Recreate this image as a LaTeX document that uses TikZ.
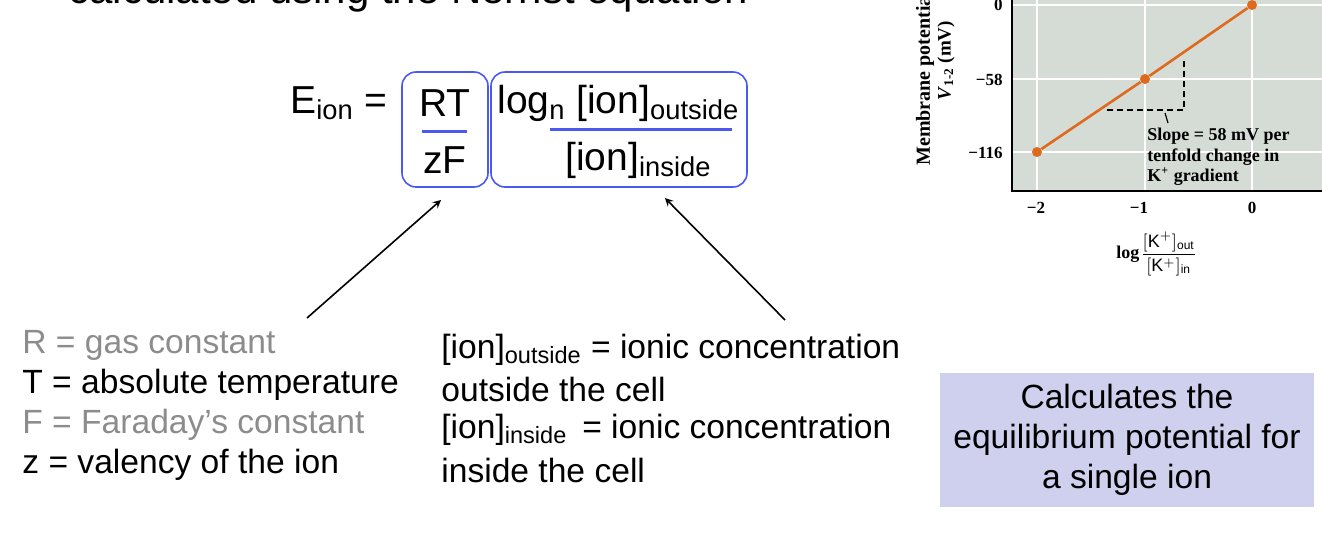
\documentclass[tikz,border=0pt]{standalone}
\usepackage{fontspec}
\setmainfont{Liberation Sans}
\newfontfamily\serifb{Liberation Serif}
\definecolor{bblue}{HTML}{4A5AF0}
\definecolor{lgray}{HTML}{8C8C8C}
\definecolor{plot}{HTML}{D5DBD5}
\definecolor{orng}{HTML}{DE6A1E}
\definecolor{purp}{HTML}{CFD0EE}
\begin{document}
\begin{tikzpicture}[x=0.5pt,y=-0.5pt,
  lab/.style={font=\fontsize{16.8}{19}\selectfont,anchor=west,inner sep=0},
  eq/.style={font=\fontsize{19.5}{24}\selectfont,inner sep=0},
  ebox/.style={draw=bblue,rounded corners=7pt,line width=0.8pt},
  tk/.style={font=\serifb\bfseries\fontsize{8.5}{10}\selectfont,inner sep=0},
  dot/.style={circle,fill=orng,inner sep=0,minimum size=5pt}]
\useasboundingbox (0,0) rectangle (1322,541);
\clip (0,0) rectangle (1322,541);
\node[font=\fontsize{21}{26}\selectfont,anchor=base west,inner sep=0] (title) at (68,3) {calculated using the Nernst equation};
% equation
\node[eq,anchor=west] (E) at (290,103) {E\textsubscript{ion} =};
\draw[ebox] (402,72) rectangle (488,187);
\draw[ebox] (491,72) rectangle (747,187);
\coordinate (rtb) at (441,200);
\coordinate (lgb) at (665,198);
\node[eq] (RT) at (445,103) {RT};
\draw[bblue,line width=1.5pt] (422,131) -- (467,131);
\node[eq] (zF) at (445,160) {zF};
\node[eq,anchor=west] (lg) at (497,103) {log\textsubscript{n} [ion]\textsubscript{outside}};
\draw[bblue,line width=1.5pt] (550,129) -- (732,129);
\node[eq,anchor=west] (ii) at (565,160) {[ion]\textsubscript{inside}};
% labels
\node[lab,text=lgray] (R) at (22,345) {R = gas constant};
\node[lab] (T) at (22,385) {T = absolute temperature};
\node[lab,text=lgray] (F) at (22,425) {F = Faraday’s constant};
\node[lab] (z) at (22,465) {z = valency of the ion};
\node[lab] (o1) at (441,350) {[ion]\textsubscript{outside} = ionic concentration};
\node[lab] (o2) at (441,389) {outside the cell};
\node[lab] (i1) at (441,430) {[ion]\textsubscript{inside}\, = ionic concentration};
\node[lab] (i2) at (441,470) {inside the cell};
\coordinate (a1) at (307,318);
\coordinate (a2) at (785,320);
\draw[-stealth,line width=0.8pt] (a1) -- (rtb);
\draw[-stealth,line width=0.8pt] (a2) -- (lgb);
% box
\node[fill=purp,minimum width=187pt,minimum height=67pt,inner sep=0] (calc) at (1127,440) {};
\node[font=\fontsize{16.8}{20}\selectfont,align=center] at (calc) {Calculates the\\equilibrium potential for\\a single ion};
% graph
\fill[plot] (1012,-5) rectangle (1322,191);
\foreach \x in {1037,1145,1252} \draw[white,line width=1pt] (\x,-5) -- (\x,191);
\foreach \y in {5,79,152} \draw[white,line width=1pt] (1012,\y) -- (1322,\y);
\draw[black,line width=1.2pt] (1012,-5) -- (1012,191) -- (1322,191);
\node[dot] (p1) at (1037,152) {};
\node[dot] (p2) at (1145,79) {};
\node[dot] (p3) at (1252,5) {};
\draw[orng,line width=1.3pt] (p1) -- (p2) -- (p3);
\draw[densely dashed,line width=0.8pt] (1107,110) -- (1184,110) -- (1184,58);
\draw[line width=0.6pt] (1165,113) -- (1168,123);
\node[tk,anchor=east] at (1003,5) {0};
\node[tk,anchor=east] at (1003,80) {\textminus58};
\node[tk,anchor=east] at (1003,153) {\textminus116};
\node[tk] at (1036,208) {\textminus2};
\node[tk] at (1139,208) {\textminus1};
\node[tk] at (1252,208) {0};
\node[tk,anchor=west,align=left,font=\serifb\bfseries\fontsize{9}{10.3}\selectfont] at (1147,157) {Slope = 58 mV per\\tenfold change in\\K\textsuperscript{+} gradient};
\node[tk,rotate=90,anchor=west,font=\serifb\bfseries\fontsize{10}{12}\selectfont] at (925,166) {Membrane potential};
\node[tk,rotate=90,anchor=west,font=\serifb\bfseries\fontsize{9.5}{12}\selectfont] at (946,101) {\textit{V}\textsubscript{1-2} (mV)};
\node[tk,anchor=west,font=\serifb\bfseries\fontsize{9}{11}\selectfont] (xl) at (1116,254) {log};
\node[inner sep=0,anchor=west,font=\fontsize{9}{11}\selectfont] at (xl.east) {$\displaystyle\frac{[\mathrm{K}^+]_{\mathrm{out}}}{[\mathrm{K}^+]_{\mathrm{in}}}$};
\end{tikzpicture}
\end{document}
